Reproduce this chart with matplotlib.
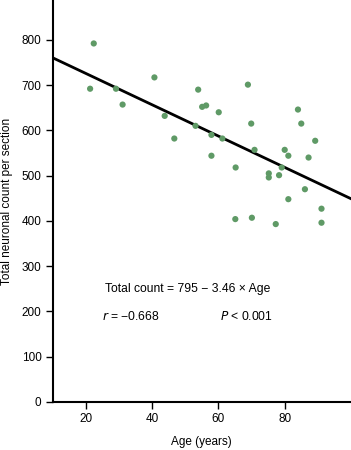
import matplotlib
import numpy as np

matplotlib.use("Agg")
import matplotlib.pyplot as plt

plt.rcParams["font.family"] = ["Liberation Sans", "DejaVu Sans"]

# возраст и число нейронов
ages = [22.4, 21.3, 29.1, 31.1, 40.7, 43.8, 46.7, 53.9, 53.1, 55.1,
        56.3, 60.1, 57.9, 61.2, 57.9, 65.2, 68.9, 69.9, 70.9, 75.2,
        75.2, 78.3, 79.1, 80.0, 81.1, 84.0, 85.0, 87.2, 89.2, 86.1,
        81.1, 91.1, 91.1, 65.1, 70.1, 77.3]
counts = [792, 692, 692, 657, 717, 632, 582, 690, 610, 652,
          655, 640, 590, 582, 544, 518, 701, 615, 557, 505,
          496, 501, 518, 557, 544, 646, 615, 540, 577, 470,
          448, 427, 396, 404, 407, 393]

intercept = 795
slope = -3.46
x_ticks = [20, 40, 60, 80]
y_ticks = [0, 100, 200, 300, 400, 500, 600, 700, 800]

fig = plt.figure(figsize=(3.51, 4.5), dpi=100)
ax = fig.add_axes([0.150, 0.1067, 0.85, 0.8933])

ax.scatter(ages, counts, s=20, color="#5f9a66", edgecolors="none", zorder=3)

line_x = np.array([10, 100])
ax.plot(line_x, intercept + slope * line_x, color="black", linewidth=2, zorder=2)

ax.set_xlim(10, 100)
ax.set_ylim(0, 888)
ax.set_xticks(x_ticks)
ax.set_yticks(y_ticks)
ax.tick_params(direction="out", length=5, width=1, labelsize=8.5, pad=3)

for side in ["top", "right"]:
    ax.spines[side].set_visible(False)
for side in ["left", "bottom"]:
    ax.spines[side].set_linewidth(1.5)

ax.set_xlabel("Age (years)", fontsize=8.5, labelpad=8)
ax.set_ylabel("Total neuronal count per section", fontsize=8.5, labelpad=6)

ax.text(0.452, 0.28, "Total count = 795 \u2212 3.46 \u00d7 Age",
        transform=ax.transAxes, ha="center", va="center", fontsize=8.7)
ax.text(0.165, 0.212, "$\\it{r}$ = \u22120.668",
        transform=ax.transAxes, ha="left", va="center", fontsize=8.7)
ax.text(0.56, 0.212, r"$\it{P}$ < 0.001",
        transform=ax.transAxes, ha="left", va="center", fontsize=8.7)

fig.savefig("out.png", dpi=100)
